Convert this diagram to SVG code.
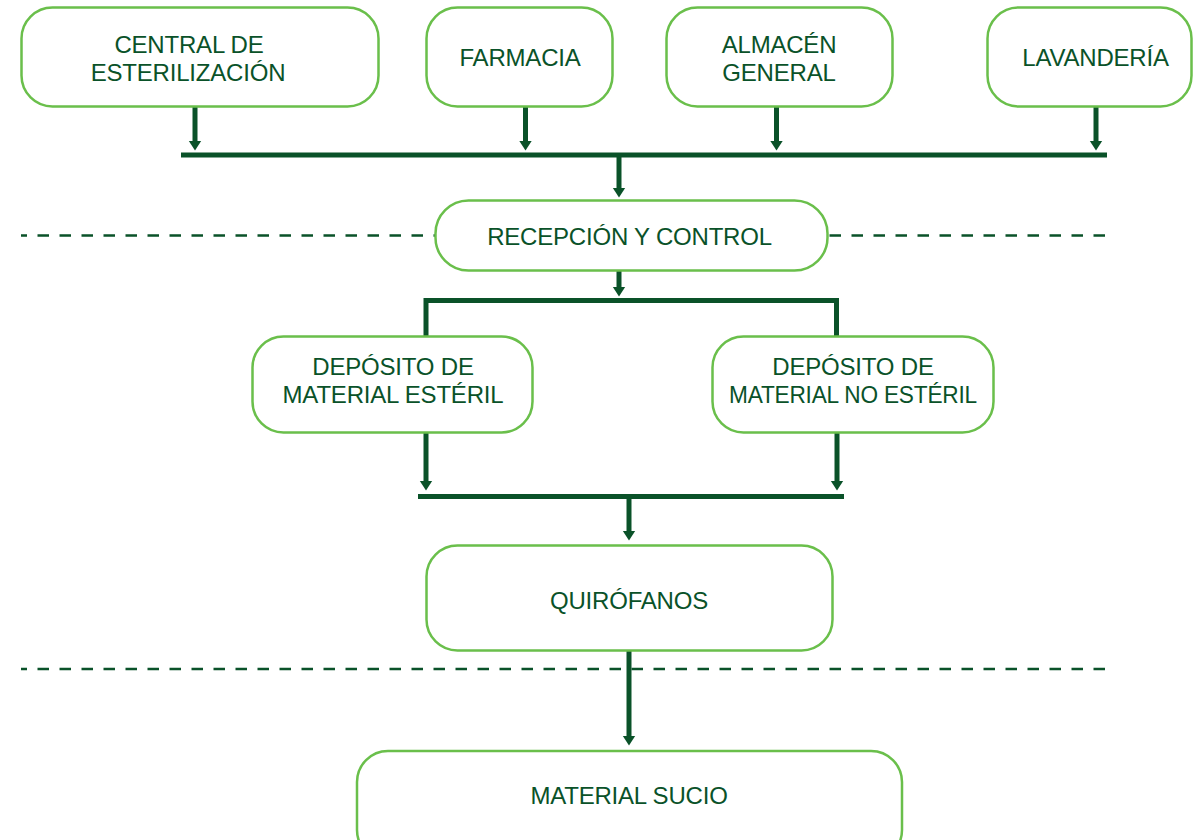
<svg xmlns="http://www.w3.org/2000/svg" width="1193" height="840" viewBox="0 0 1193 840">
  <style>
    .box { fill: #ffffff; stroke: #6abf4b; stroke-width: 2.5; }
    .lbl { font-family: "Liberation Sans", Arial, sans-serif; font-size: 24px; letter-spacing: -0.2px; fill: #0a5229; text-anchor: middle; }
    .wire { fill: none; stroke: #0a5229; stroke-width: 5; }
    .bar { fill: none; stroke: #0a5229; stroke-width: 5; }
    .dash { fill: none; stroke: #0a5229; stroke-width: 2.5; stroke-dasharray: 11.5 10.5; stroke-dashoffset: 5.5; }
  </style>
  <defs>
    <marker id="arrow" markerUnits="userSpaceOnUse" markerWidth="10" markerHeight="14" viewBox="0 0 10 14" refX="0.5" refY="7" orient="auto">
      <path d="M0,0.5 L10,7 L0,13.5 Z" fill="#0a5229"/>
    </marker>
  </defs>

  <g id="separators">
    <line class="dash" x1="21" y1="235.5" x2="1108" y2="235.5"/>
    <line class="dash" x1="21" y1="669" x2="1108" y2="669"/>
  </g>

  <g id="connectors">
    <line class="wire" x1="195" y1="106" x2="195" y2="141" marker-end="url(#arrow)"/>
    <line class="wire" x1="525.5" y1="106" x2="525.5" y2="141" marker-end="url(#arrow)"/>
    <line class="wire" x1="776.5" y1="106" x2="776.5" y2="141" marker-end="url(#arrow)"/>
    <line class="wire" x1="1096" y1="106" x2="1096" y2="141" marker-end="url(#arrow)"/>
    <line class="bar" x1="181" y1="155" x2="1107" y2="155"/>
    <line class="wire" x1="619" y1="157" x2="619" y2="188" marker-end="url(#arrow)"/>
    <line class="wire" x1="619" y1="271" x2="619" y2="287" marker-end="url(#arrow)"/>
    <path class="bar" d="M426,336 V300.5 H836.5 V336"/>
    <line class="wire" x1="426" y1="433" x2="426" y2="481" marker-end="url(#arrow)"/>
    <line class="wire" x1="837" y1="433" x2="837" y2="481" marker-end="url(#arrow)"/>
    <line class="bar" x1="418" y1="496.5" x2="844" y2="496.5"/>
    <line class="wire" x1="629" y1="499" x2="629" y2="531" marker-end="url(#arrow)"/>
    <line class="wire" x1="629" y1="651" x2="629" y2="736" marker-end="url(#arrow)"/>
  </g>

  <g id="central">
    <rect class="box" x="21.5" y="7.5" width="357" height="99" rx="31"/>
    <text class="lbl" x="189" y="53">CENTRAL DE</text>
    <text class="lbl" x="188" y="81">ESTERILIZACIÓN</text>
  </g>
  <g id="farmacia">
    <rect class="box" x="426.5" y="7.5" width="186" height="99" rx="31"/>
    <text class="lbl" x="520" y="66">FARMACIA</text>
  </g>
  <g id="almacen">
    <rect class="box" x="666.5" y="7.5" width="226" height="99" rx="31"/>
    <text class="lbl" x="779" y="53">ALMACÉN</text>
    <text class="lbl" x="779" y="81">GENERAL</text>
  </g>
  <g id="lavanderia">
    <rect class="box" x="987.5" y="7.5" width="204" height="99" rx="31"/>
    <text class="lbl" x="1095.5" y="66">LAVANDERÍA</text>
  </g>
  <g id="recepcion">
    <rect class="box" x="435.5" y="200.5" width="392" height="70" rx="33"/>
    <text class="lbl" x="629.5" y="245">RECEPCIÓN Y CONTROL</text>
  </g>
  <g id="deposito-esteril">
    <rect class="box" x="252.5" y="336.5" width="280" height="96" rx="31"/>
    <text class="lbl" x="393" y="375">DEPÓSITO DE</text>
    <text class="lbl" x="393" y="403">MATERIAL ESTÉRIL</text>
  </g>
  <g id="deposito-no-esteril">
    <rect class="box" x="712.5" y="336.5" width="281" height="96" rx="31"/>
    <text class="lbl" x="853" y="375">DEPÓSITO DE</text>
    <text class="lbl" x="853" y="403" textLength="248" lengthAdjust="spacingAndGlyphs">MATERIAL NO ESTÉRIL</text>
  </g>
  <g id="quirofanos">
    <rect class="box" x="426.5" y="545.5" width="406" height="105" rx="31"/>
    <text class="lbl" x="629" y="609">QUIRÓFANOS</text>
  </g>
  <g id="material-sucio">
    <rect class="box" x="357" y="751" width="545" height="110" rx="31"/>
    <text class="lbl" x="629" y="804">MATERIAL SUCIO</text>
  </g>
</svg>
